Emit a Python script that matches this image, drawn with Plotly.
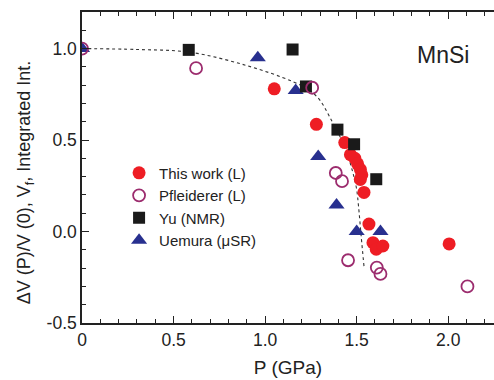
import plotly.graph_objects as go

# ---- data ----
this_work_P = [1.05, 1.28, 1.435, 1.466, 1.49, 1.505, 1.52, 1.528, 1.52, 1.54, 1.567, 1.589, 1.607, 1.643, 2.005]
this_work_V = [0.78, 0.586, 0.486, 0.42, 0.40, 0.37, 0.34, 0.31, 0.285, 0.214, 0.041, -0.061, -0.097, -0.079, -0.068]

pfleiderer_P = [0.0, 0.623, 1.257, 1.386, 1.42, 1.453, 1.61, 1.63, 2.105]
pfleiderer_V = [1.0, 0.893, 0.786, 0.32, 0.275, -0.157, -0.197, -0.232, -0.30]

yu_P = [0.583, 1.15, 1.223, 1.395, 1.486, 1.607]
yu_V = [0.993, 0.995, 0.793, 0.557, 0.477, 0.286]

uemura_P = [0.0, 0.96, 1.167, 1.29, 1.39, 1.50, 1.63]
uemura_V = [1.0, 0.95, 0.771, 0.41, 0.145, 0.0, 0.0]

guide_P = [0.0, 0.3, 0.59, 0.9, 1.15, 1.245, 1.30, 1.353, 1.41, 1.43, 1.46, 1.485, 1.50, 1.51, 1.525, 1.54]
guide_V = [1.0, 0.995, 0.98, 0.907, 0.82, 0.77, 0.717, 0.626, 0.517, 0.49, 0.39, 0.30, 0.23, 0.14, -0.03, -0.19]

x_tickvals = [0, 0.5, 1.0, 1.5, 2.0]
x_ticktext = ["0", "0.5", "1.0", "1.5", "2.0"]
y_tickvals = [-0.5, 0.0, 0.5, 1.0]
y_ticktext = ["-0.5", "0.0", "0.5", "1.0"]

FONT = "Liberation Sans, Arial, sans-serif"
INK = "#222222"

fig = go.Figure()

fig.add_trace(go.Scatter(x=guide_P, y=guide_V, mode="lines", showlegend=False,
                         line=dict(color="#333333", width=1.1, dash="dot", shape="spline"),
                         hoverinfo="skip"))

fig.add_trace(go.Scatter(x=this_work_P, y=this_work_V, mode="markers", name="This work (L)",
                         legendrank=1,
                         marker=dict(symbol="circle", size=13, color="#EE1D24",
                                     line=dict(width=0))))
fig.add_trace(go.Scatter(x=uemura_P, y=uemura_V, mode="markers", name="Uemura (\u03bcSR)",
                         legendrank=4,
                         marker=dict(symbol="triangle-up", size=14, color="#28308F",
                                     line=dict(width=0))))
fig.add_trace(go.Scatter(x=yu_P, y=yu_V, mode="markers", name="Yu (NMR)",
                         legendrank=3,
                         marker=dict(symbol="square", size=12, color="#1A1A1A",
                                     line=dict(width=0))))
fig.add_trace(go.Scatter(x=pfleiderer_P, y=pfleiderer_V, mode="markers", name="Pfleiderer (L)",
                         legendrank=2,
                         marker=dict(symbol="circle-open", size=12, color="#9C2C6E",
                                     line=dict(width=1.8, color="#9C2C6E"))))

fig.update_layout(
    width=494, height=380,
    margin=dict(l=82, r=0, t=12, b=57),
    paper_bgcolor="white", plot_bgcolor="white",
    font=dict(family=FONT, size=17, color=INK),
    showlegend=True,
    legend=dict(x=0.09, y=0.535, xanchor="left", yanchor="top",
                bgcolor="rgba(0,0,0,0)", font=dict(size=15, family=FONT, color=INK),
                itemsizing="trace", tracegroupgap=0),
    xaxis=dict(range=[0, 2.25], showgrid=False, zeroline=False,
               showline=True, linecolor=INK, linewidth=1.5, mirror="ticks",
               ticks="inside", ticklen=7, tickwidth=1.3, tickcolor=INK,
               tickvals=x_tickvals, ticktext=x_ticktext,
               minor=dict(dtick=0.1, ticks="inside", ticklen=4, tickwidth=1.1, tickcolor=INK),
               tickfont=dict(size=17.5, family=FONT, color=INK),
               title=dict(text="P (GPa)", font=dict(size=19, family=FONT, color=INK), standoff=12)),
    yaxis=dict(range=[-0.5, 1.2], showgrid=False, zeroline=False,
               showline=True, linecolor=INK, linewidth=1.5,
               ticks="inside", ticklen=7, tickwidth=1.3, tickcolor=INK,
               tickvals=y_tickvals, ticktext=y_ticktext,
               minor=dict(dtick=0.1, ticks="inside", ticklen=4, tickwidth=1.1, tickcolor=INK),
               tickfont=dict(size=17.5, family=FONT, color=INK)),
    annotations=[
        dict(text="\u0394V (P)/V (0), V<sub>f</sub>, Integrated Int.", textangle=-90,
             xref="paper", yref="paper", x=-0.138, y=0.453, xanchor="center", yanchor="middle",
             showarrow=False, font=dict(size=18, family=FONT, color=INK)),
        dict(text="MnSi", xref="paper", yref="paper", x=0.876, y=0.863,
             xanchor="center", yanchor="middle", showarrow=False,
             font=dict(size=23, family=FONT, color=INK)),
    ],
)

fig.write_html("out.html")
